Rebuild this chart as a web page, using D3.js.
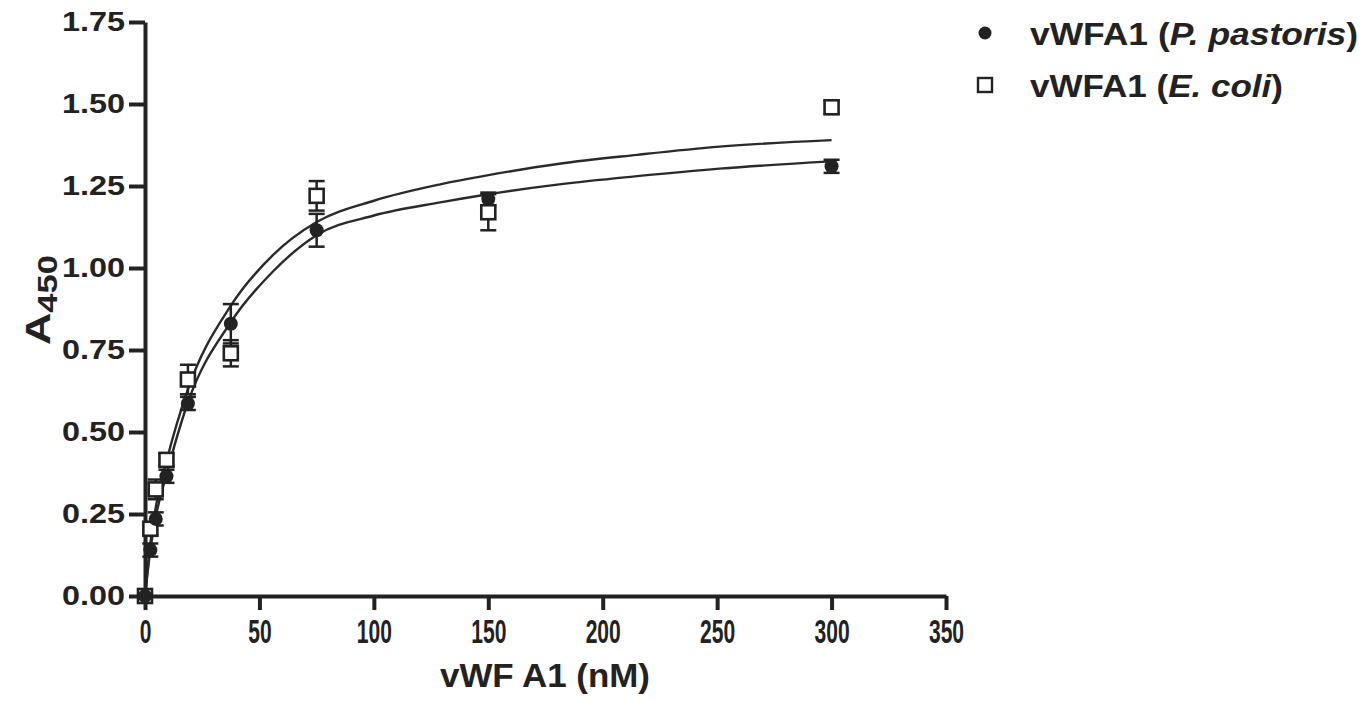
<!DOCTYPE html>
<html>
<head>
<meta charset="utf-8">
<script src="https://cdn.jsdelivr.net/npm/d3@7"></script>
<style>
html,body{margin:0;padding:0;background:#fff;}
svg{display:block;}
</style>
</head>
<body>
<svg id="chart" width="1364" height="701"></svg>
<script>
// ---- data ----
const concentrations = [0, 2.34, 4.69, 9.375, 18.75, 37.5, 75, 150, 300];
const pastorisMean = [0, 0.14, 0.235, 0.365, 0.587, 0.83, 1.115, 1.21, 1.31];
const pastorisErr  = [0.01, 0.02, 0.02, 0.02, 0.02, 0.06, 0.05, 0.02, 0.02];
const coliMean = [0, 0.205, 0.325, 0.415, 0.66, 0.74, 1.22, 1.17, 1.49];
const coliErr  = [0.01, 0.02, 0.03, 0.02, 0.045, 0.04, 0.045, 0.055, 0.02];

// fitted curves
const fitX = [0, 2.34, 4.69, 9.375, 18.75, 37.5, 56, 75, 100, 129, 150, 181, 215, 251, 300];
const pastorisFit = [0, 0.14, 0.24, 0.37, 0.59, 0.835, 0.99, 1.10, 1.16, 1.20, 1.225, 1.255, 1.28, 1.303, 1.325];
const coliFit     = [0, 0.16, 0.27, 0.41, 0.63, 0.885, 1.04, 1.14, 1.205, 1.255, 1.283, 1.318, 1.345, 1.37, 1.39];

const xTicks = [0, 50, 100, 150, 200, 250, 300, 350];
const yTicks = [0, 0.25, 0.5, 0.75, 1.0, 1.25, 1.5, 1.75];
const xTitle = "vWF A1 (nM)";
const legendLabels = [["vWFA1 (", "P. pastoris", ")"], ["vWFA1 (", "E. coli", ")"]];

// ---- drawing ----
const ink = "#222";
const svg = d3.select("#chart");
const x = d3.scaleLinear().domain([0, 350]).range([145, 946]);
const y = d3.scaleLinear().domain([0, 1.75]).range([596, 22]);

// curves
const line = d3.line().x(d => x(d[0])).y(d => y(d[1])).curve(d3.curveMonotoneX);
[coliFit, pastorisFit].forEach(arr => {
  svg.append("path")
    .attr("d", line(fitX.map((v, i) => [v, arr[i]])))
    .attr("fill", "none").attr("stroke", "#2a2a2a").attr("stroke-width", 2.4);
});

// axes
const yAxis = d3.axisLeft(y).tickValues(yTicks).tickFormat(d3.format(".2f"))
  .tickSize(16).tickSizeOuter(0).tickPadding(4);
const gy = svg.append("g").attr("transform", "translate(145,0)").call(yAxis);
gy.select(".domain").attr("stroke", ink).attr("stroke-width", 4);
gy.selectAll(".tick line").attr("stroke", ink).attr("stroke-width", 4);
gy.selectAll(".tick text")
  .attr("fill", ink).attr("font-family", "Liberation Sans, Arial, sans-serif")
  .attr("font-weight", "bold").attr("font-size", 28)
  .attr("textLength", 63).attr("lengthAdjust", "spacingAndGlyphs");

const xAxis = d3.axisBottom(x).tickValues(xTicks).tickFormat(d3.format("d"))
  .tickSize(14).tickSizeOuter(0).tickPadding(9);
const gx = svg.append("g").attr("transform", `translate(0,${y(0)})`).call(xAxis);
gx.select(".domain").attr("stroke", ink).attr("stroke-width", 4);
gx.selectAll(".tick line").attr("stroke", ink).attr("stroke-width", 4);
gx.selectAll(".tick text")
  .attr("fill", ink).attr("font-family", "Liberation Sans, Arial, sans-serif")
  .attr("font-weight", "bold").attr("font-size", 34)
  .attr("textLength", d => String(d).length * 11.7).attr("lengthAdjust", "spacingAndGlyphs");

// axis titles
svg.append("text")
  .attr("x", 545).attr("y", 687).attr("text-anchor", "middle")
  .attr("fill", ink).attr("font-family", "Liberation Sans, Arial, sans-serif")
  .attr("font-weight", "bold").attr("font-size", 33)
  .attr("textLength", 210).attr("lengthAdjust", "spacingAndGlyphs")
  .text(xTitle);

const yt = svg.append("text")
  .attr("transform", "translate(50,300) rotate(-90)")
  .attr("text-anchor", "middle")
  .attr("fill", ink).attr("font-family", "Liberation Sans, Arial, sans-serif")
  .attr("font-weight", "bold").attr("font-size", 35)
  .attr("textLength", 90).attr("lengthAdjust", "spacingAndGlyphs");
yt.append("tspan").text("A");
yt.append("tspan").attr("font-size", 27).attr("dy", 7).text("450");

// error bars
function errorBars(means, errs) {
  const g = svg.append("g").attr("stroke", ink).attr("stroke-width", 2.5);
  concentrations.forEach((c, i) => {
    const cx = x(c), y1 = y(means[i] + errs[i]), y2 = y(means[i] - errs[i]);
    g.append("line").attr("x1", cx).attr("x2", cx).attr("y1", y1).attr("y2", y2);
    g.append("line").attr("x1", cx - 8).attr("x2", cx + 8).attr("y1", y1).attr("y2", y1);
    g.append("line").attr("x1", cx - 8).attr("x2", cx + 8).attr("y1", y2).attr("y2", y2);
  });
}
errorBars(coliMean, coliErr);
errorBars(pastorisMean, pastorisErr);

// markers
svg.append("g").selectAll("rect").data(concentrations).join("rect")
  .attr("x", d => x(d) - 7).attr("y", (d, i) => y(coliMean[i]) - 7)
  .attr("width", 14).attr("height", 14)
  .attr("fill", "#fff").attr("stroke", ink).attr("stroke-width", 2.6);
svg.append("g").selectAll("circle").data(concentrations).join("circle")
  .attr("cx", d => x(d)).attr("cy", (d, i) => y(pastorisMean[i]))
  .attr("r", 7).attr("fill", ink);

// legend
const lg = svg.append("g");
lg.append("circle").attr("cx", 985).attr("cy", 33).attr("r", 6.5).attr("fill", ink);
lg.append("rect").attr("x", 978).attr("y", 78).attr("width", 14).attr("height", 14)
  .attr("fill", "#fff").attr("stroke", ink).attr("stroke-width", 2.4);
const legendWidths = [328, 253];
legendLabels.forEach((parts, i) => {
  const t = lg.append("text")
    .attr("x", 1030).attr("y", 45 + i * 52)
    .attr("fill", ink).attr("font-family", "Liberation Sans, Arial, sans-serif")
    .attr("font-weight", "bold").attr("font-size", 31)
    .attr("textLength", legendWidths[i]).attr("lengthAdjust", "spacingAndGlyphs");
  t.append("tspan").text(parts[0]);
  t.append("tspan").attr("font-style", "italic").text(parts[1]);
  t.append("tspan").text(parts[2]);
});
</script>
</body>
</html>
